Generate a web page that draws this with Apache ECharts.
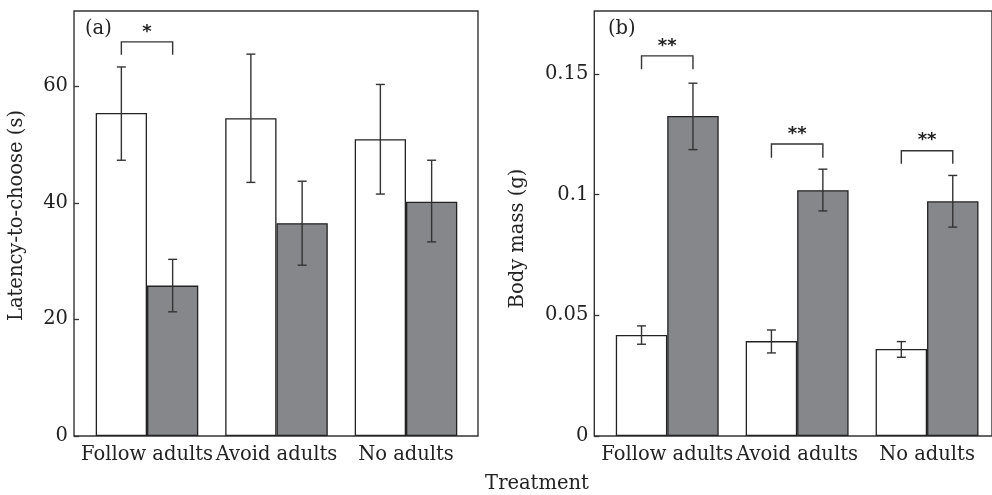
<!DOCTYPE html>
<html>
<head>
<meta charset="utf-8">
<script src="https://cdn.jsdelivr.net/npm/echarts@6/dist/echarts.min.js"></script>
<style>
html,body{margin:0;padding:0;background:#fff;}
#chart{width:992px;height:495px;}
</style>
</head>
<body>
<div id="chart"></div>
<script>
// ---- data ----
const categories = ['Follow adults', 'Avoid adults', 'No adults'];

// panel (a): latency-to-choose (s)
const latencyWhite = [55.4, 54.5, 50.9];
const latencyWhiteLow = [47.3, 43.5, 41.5];
const latencyWhiteHigh = [63.3, 65.5, 60.3];
const latencyGrey = [25.8, 36.5, 40.2];
const latencyGreyLow = [21.3, 29.3, 33.3];
const latencyGreyHigh = [30.3, 43.7, 47.3];
const latencyTicks = [0, 20, 40, 60];
// significance brackets: [category, bar height, leg end]
const latencySig = [[0, 67.6, 65.4]];
const latencySigLabels = ['*'];

// panel (b): body mass (g)
const massWhite = [0.0418, 0.0393, 0.0360];
const massWhiteLow = [0.0380, 0.0344, 0.0326];
const massWhiteHigh = [0.0456, 0.0439, 0.0391];
const massGrey = [0.1325, 0.1018, 0.0972];
const massGreyLow = [0.1186, 0.0932, 0.0865];
const massGreyHigh = [0.1461, 0.1105, 0.1079];
const massTicks = [0, 0.05, 0.1, 0.15];
const massSig = [[0, 0.1574, 0.1519], [1, 0.1209, 0.1152], [2, 0.1181, 0.1127]];
const massSigLabels = ['**', '**', '**'];

// ---- styles ----
const FONT = 'DejaVu Serif';
const TXT = '#222';
const LINE = '#333';
const GREY = '#86878b';
const CAT_GAP = 0.208;

function errData(lowArr, highArr, side) {
  return lowArr.map((l, i) => [i, l, highArr[i], side]);
}
function sigData(arr, labels) {
  return arr.map((d, i) => [d[0], d[1], d[2], labels[i]]);
}

function renderErr(params, api) {
  const band = api.size([1, 0])[0];
  const w = band * (1 - CAT_GAP) / 2;
  const side = api.value(3);
  const c = api.coord([api.value(0), api.value(1)]);
  const h = api.coord([api.value(0), api.value(2)]);
  const x = c[0] + side * w / 2;
  const cap = 4.5;
  const st = { stroke: LINE, lineWidth: 1.4 };
  return {
    type: 'group',
    children: [
      { type: 'line', shape: { x1: x, y1: c[1], x2: x, y2: h[1] }, style: st },
      { type: 'line', shape: { x1: x - cap, y1: c[1], x2: x + cap, y2: c[1] }, style: st },
      { type: 'line', shape: { x1: x - cap, y1: h[1], x2: x + cap, y2: h[1] }, style: st }
    ]
  };
}

function renderSig(params, api, labelArr) {
  const band = api.size([1, 0])[0];
  const w = band * (1 - CAT_GAP) / 2;
  const cat = api.value(0);
  const top = api.coord([cat, api.value(1)]);
  const leg = api.coord([cat, api.value(2)]);
  const x1 = top[0] - w / 2, x2 = top[0] + w / 2;
  const st = { stroke: LINE, lineWidth: 1.4, fill: null };
  return {
    type: 'group',
    children: [
      { type: 'polyline', shape: { points: [[x1, leg[1]], [x1, top[1]], [x2, top[1]], [x2, leg[1]]] }, style: st },
      { type: 'text', style: { text: labelArr[params.dataIndex], x: top[0], y: top[1] - 10, align: 'center', verticalAlign: 'middle',
        fontFamily: 'DejaVu Sans', fontSize: 18, fontWeight: 'bold', fill: TXT } }
    ]
  };
}

const chart = echarts.init(document.getElementById('chart'), null, { renderer: 'canvas' });

const yLabel = { color: TXT, fontFamily: FONT, fontSize: 19.5, margin: 6 };
const catLabel = { color: TXT, fontFamily: FONT, fontSize: 19.5, margin: 9, interval: 0 };
const tickStyle = { color: LINE, width: 1.3 };

const option = {
  animation: false,
  backgroundColor: '#fff',
  grid: [
    // bar grids (category spacing)
    { left: 82.25, right: 521.25, top: 11, bottom: 59 },
    { left: 602.3, right: -0.3, top: 11, bottom: 59 },
    // frame grids
    { left: 74, right: 514, top: 11, bottom: 59, show: true, borderColor: LINE, borderWidth: 1.4, backgroundColor: 'transparent' },
    { left: 594.3, right: -7, top: 11, bottom: 59, show: true, borderColor: LINE, borderWidth: 1.4, backgroundColor: 'transparent' }
  ],
  xAxis: [
    { type: 'category', gridIndex: 0, data: categories, axisLine: { show: false }, axisTick: { show: false }, axisLabel: catLabel },
    { type: 'category', gridIndex: 1, data: categories, axisLine: { show: false }, axisTick: { show: false }, axisLabel: catLabel },
    { type: 'value', gridIndex: 2, show: false },
    { type: 'value', gridIndex: 3, show: false }
  ],
  yAxis: [
    { type: 'value', gridIndex: 0, min: 0, max: 72.9, show: false },
    { type: 'value', gridIndex: 1, min: 0, max: 0.176, show: false },
    { type: 'value', gridIndex: 2, min: 0, max: 72.9,
      axisLine: { show: false }, splitLine: { show: false },
      axisTick: { show: true, inside: true, length: 5, lineStyle: tickStyle, customValues: latencyTicks },
      axisLabel: Object.assign({}, yLabel, { customValues: latencyTicks }) },
    { type: 'value', gridIndex: 3, min: 0, max: 0.176,
      axisLine: { show: false }, splitLine: { show: false },
      axisTick: { show: true, inside: true, length: 5, lineStyle: tickStyle, customValues: massTicks },
      axisLabel: Object.assign({}, yLabel, { customValues: massTicks }) }
  ],
  series: [
    { name: 'White (a)', type: 'bar', xAxisIndex: 0, yAxisIndex: 0, data: latencyWhite, barGap: '0%', barCategoryGap: (CAT_GAP * 100) + '%',
      itemStyle: { color: '#fff', borderColor: '#222', borderWidth: 1.3 } },
    { name: 'Grey (a)', type: 'bar', xAxisIndex: 0, yAxisIndex: 0, data: latencyGrey, barGap: '0%', barCategoryGap: (CAT_GAP * 100) + '%',
      itemStyle: { color: GREY, borderColor: '#222', borderWidth: 1.3 } },
    { name: 'White (b)', type: 'bar', xAxisIndex: 1, yAxisIndex: 1, data: massWhite, barGap: '0%', barCategoryGap: (CAT_GAP * 100) + '%',
      itemStyle: { color: '#fff', borderColor: '#222', borderWidth: 1.3 } },
    { name: 'Grey (b)', type: 'bar', xAxisIndex: 1, yAxisIndex: 1, data: massGrey, barGap: '0%', barCategoryGap: (CAT_GAP * 100) + '%',
      itemStyle: { color: GREY, borderColor: '#222', borderWidth: 1.3 } },
    { type: 'custom', xAxisIndex: 0, yAxisIndex: 0, z: 5, renderItem: renderErr, data: errData(latencyWhiteLow, latencyWhiteHigh, -1), clip: false },
    { type: 'custom', xAxisIndex: 0, yAxisIndex: 0, z: 5, renderItem: renderErr, data: errData(latencyGreyLow, latencyGreyHigh, 1), clip: false },
    { type: 'custom', xAxisIndex: 1, yAxisIndex: 1, z: 5, renderItem: renderErr, data: errData(massWhiteLow, massWhiteHigh, -1), clip: false },
    { type: 'custom', xAxisIndex: 1, yAxisIndex: 1, z: 5, renderItem: renderErr, data: errData(massGreyLow, massGreyHigh, 1), clip: false },
    { type: 'custom', xAxisIndex: 0, yAxisIndex: 0, z: 5, clip: false, data: sigData(latencySig, latencySigLabels),
      renderItem: (p, api) => renderSig(p, api, latencySigLabels) },
    { type: 'custom', xAxisIndex: 1, yAxisIndex: 1, z: 5, clip: false, data: sigData(massSig, massSigLabels),
      renderItem: (p, api) => renderSig(p, api, massSigLabels) }
  ],
  graphic: [
    { type: 'text', left: 85, top: 19, style: { text: '(a)', fontFamily: FONT, fontSize: 19.5, fill: TXT } },
    { type: 'text', left: 608, top: 19, style: { text: '(b)', fontFamily: FONT, fontSize: 19.5, fill: TXT } },
    { type: 'text', x: 17, y: 215.5, rotation: Math.PI / 2,
      style: { text: 'Latency-to-choose (s)', fontFamily: FONT, fontSize: 19.5, fill: TXT, align: 'center', verticalAlign: 'middle' } },
    { type: 'text', x: 518, y: 238.5, rotation: Math.PI / 2,
      style: { text: 'Body mass (g)', fontFamily: FONT, fontSize: 19.5, fill: TXT, align: 'center', verticalAlign: 'middle' } },
    { type: 'text', x: 537, y: 484, style: { text: 'Treatment', fontFamily: FONT, fontSize: 19.5, fill: TXT, align: 'center', verticalAlign: 'middle' } }
  ]
};

chart.setOption(option);
</script>
</body>
</html>
